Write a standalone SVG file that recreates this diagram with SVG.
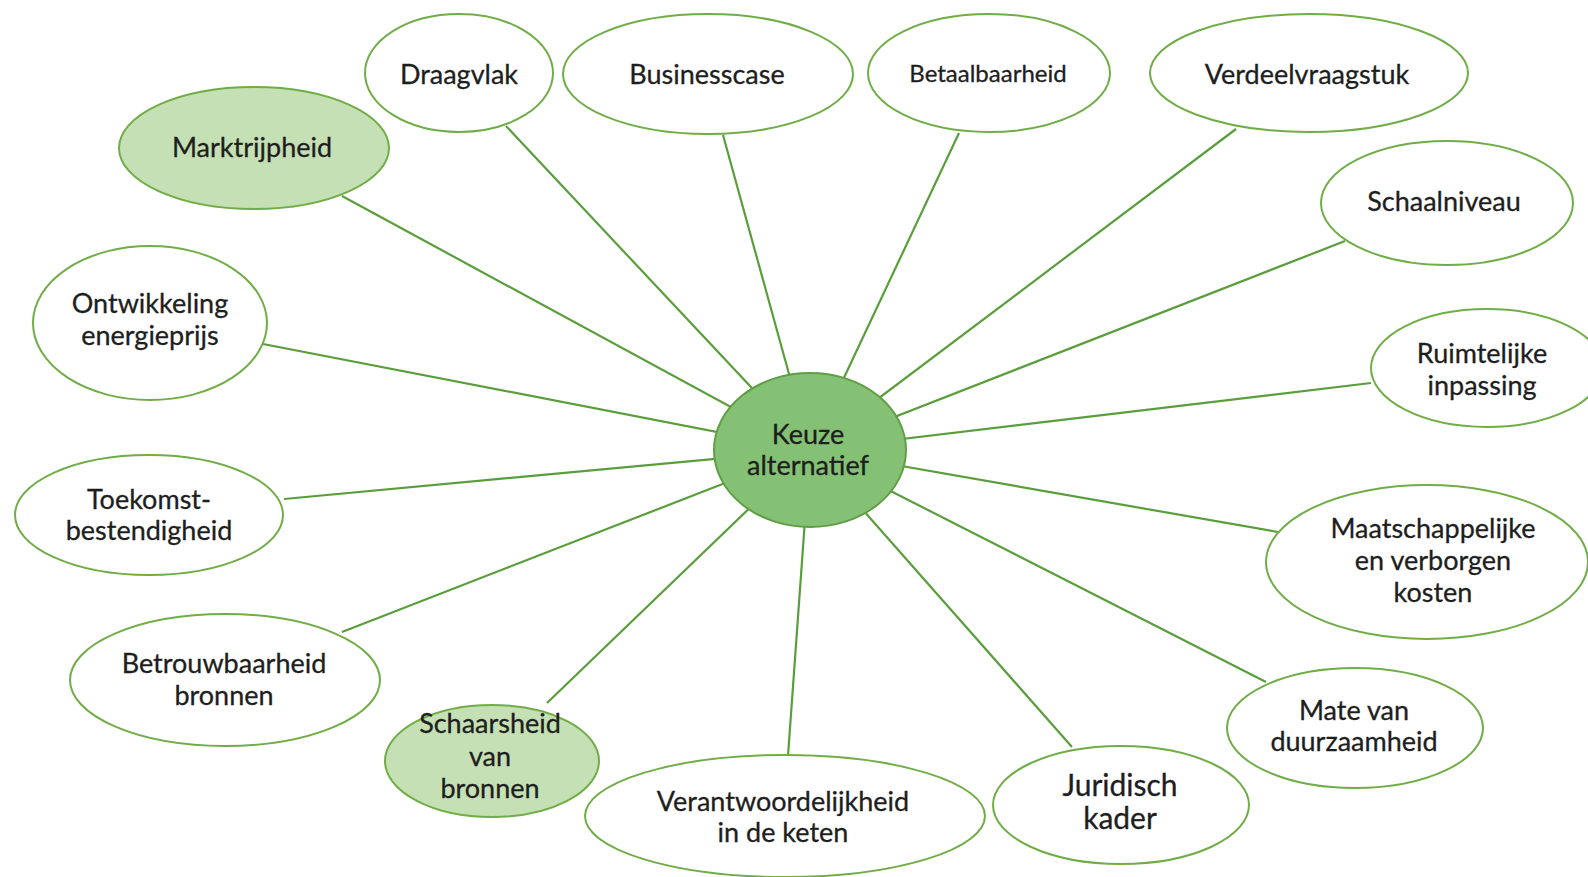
<svg xmlns="http://www.w3.org/2000/svg" width="1588" height="877" viewBox="0 0 1588 877">
<style>
.n{fill:#ffffff;stroke:#70ad47;stroke-width:2}
.l{fill:#c5e0b4;stroke:#70ad47;stroke-width:2}
.c{fill:#84c174;stroke:#5f9e45;stroke-width:2}
.t{font-family:Lato,"Open Sans",sans-serif;font-size:27px;fill:#1e1e1e;stroke:#1e1e1e;stroke-width:0.3;text-anchor:middle;dominant-baseline:central}
.cn line{stroke:#5a9e3c;stroke-width:2.2}
</style>
<rect width="1588" height="877" fill="#ffffff"/>
<g id="connectors" class="cn">
<line x1="342" y1="196" x2="810" y2="450"/>
<line x1="506" y1="126" x2="810" y2="450"/>
<line x1="723" y1="135" x2="810" y2="450"/>
<line x1="959" y1="133" x2="810" y2="450"/>
<line x1="1236" y1="129" x2="810" y2="450"/>
<line x1="1345" y1="241" x2="810" y2="450"/>
<line x1="1371" y1="383" x2="810" y2="450"/>
<line x1="1278" y1="532" x2="810" y2="450"/>
<line x1="1266" y1="682" x2="810" y2="450"/>
<line x1="1072" y1="747" x2="810" y2="450"/>
<line x1="788" y1="756" x2="810" y2="450"/>
<line x1="547" y1="703" x2="810" y2="450"/>
<line x1="342" y1="632" x2="810" y2="450"/>
<line x1="284" y1="499" x2="810" y2="450"/>
<line x1="263" y1="344" x2="810" y2="450"/>
</g>
<g id="draagvlak"><ellipse class="n" cx="459" cy="73" rx="94" ry="59"/><text class="t" x="459" y="73">Draagvlak</text></g>
<g id="businesscase"><ellipse class="n" cx="708" cy="74" rx="145" ry="60"/><text class="t" x="707" y="73">Businesscase</text></g>
<g id="betaalbaarheid"><ellipse class="n" cx="989" cy="73" rx="121" ry="59"/><text class="t" x="988" y="72" style="font-size:24px">Betaalbaarheid</text></g>
<g id="verdeelvraagstuk"><ellipse class="n" cx="1309" cy="73" rx="159" ry="59"/><text class="t" x="1307" y="73">Verdeelvraagstuk</text></g>
<g id="schaalniveau"><ellipse class="n" cx="1447" cy="203" rx="126" ry="62"/><text class="t" x="1444" y="200">Schaalniveau</text></g>
<g id="ruimtelijke"><ellipse class="n" cx="1487" cy="368" rx="116" ry="59"/><text class="t" x="1482" y="352">Ruimtelijke</text><text class="t" x="1482" y="384">inpassing</text></g>
<g id="maatschappelijke"><ellipse class="n" cx="1427" cy="562" rx="161" ry="77"/><text class="t" x="1433" y="527">Maatschappelijke</text><text class="t" x="1433" y="559">en verborgen</text><text class="t" x="1433" y="591">kosten</text></g>
<g id="mate"><ellipse class="n" cx="1355" cy="728" rx="128" ry="60"/><text class="t" x="1354" y="709">Mate van</text><text class="t" x="1354" y="740">duurzaamheid</text></g>
<g id="juridisch"><ellipse class="n" cx="1121" cy="805" rx="128" ry="59"/><text class="t" x="1120" y="784" style="font-size:30px">Juridisch</text><text class="t" x="1120" y="817" style="font-size:30px">kader</text></g>
<g id="verantwoordelijkheid"><ellipse class="n" cx="785" cy="816" rx="200" ry="61"/><text class="t" x="783" y="800">Verantwoordelijkheid</text><text class="t" x="783" y="831">in de keten</text></g>
<g id="schaarsheid"><ellipse class="l" cx="492" cy="761" rx="107" ry="56"/><text class="t" x="490" y="722">Schaarsheid</text><text class="t" x="490" y="755">van</text><text class="t" x="490" y="787">bronnen</text></g>
<g id="betrouwbaarheid"><ellipse class="n" cx="225" cy="680" rx="155" ry="66"/><text class="t" x="224" y="662">Betrouwbaarheid</text><text class="t" x="224" y="694">bronnen</text></g>
<g id="toekomst"><ellipse class="n" cx="149" cy="515" rx="134" ry="60"/><text class="t" x="149" y="498">Toekomst-</text><text class="t" x="149" y="529">bestendigheid</text></g>
<g id="ontwikkeling"><ellipse class="n" cx="150" cy="323" rx="117" ry="77"/><text class="t" x="150" y="302">Ontwikkeling</text><text class="t" x="150" y="334">energieprijs</text></g>
<g id="marktrijpheid"><ellipse class="l" cx="254" cy="148" rx="135" ry="61"/><text class="t" x="252" y="146">Marktrijpheid</text></g>
<g id="keuze"><ellipse class="c" cx="810" cy="450" rx="96" ry="77"/><text class="t" x="808" y="433">Keuze</text><text class="t" x="808" y="464">alternatief</text></g>
</svg>
